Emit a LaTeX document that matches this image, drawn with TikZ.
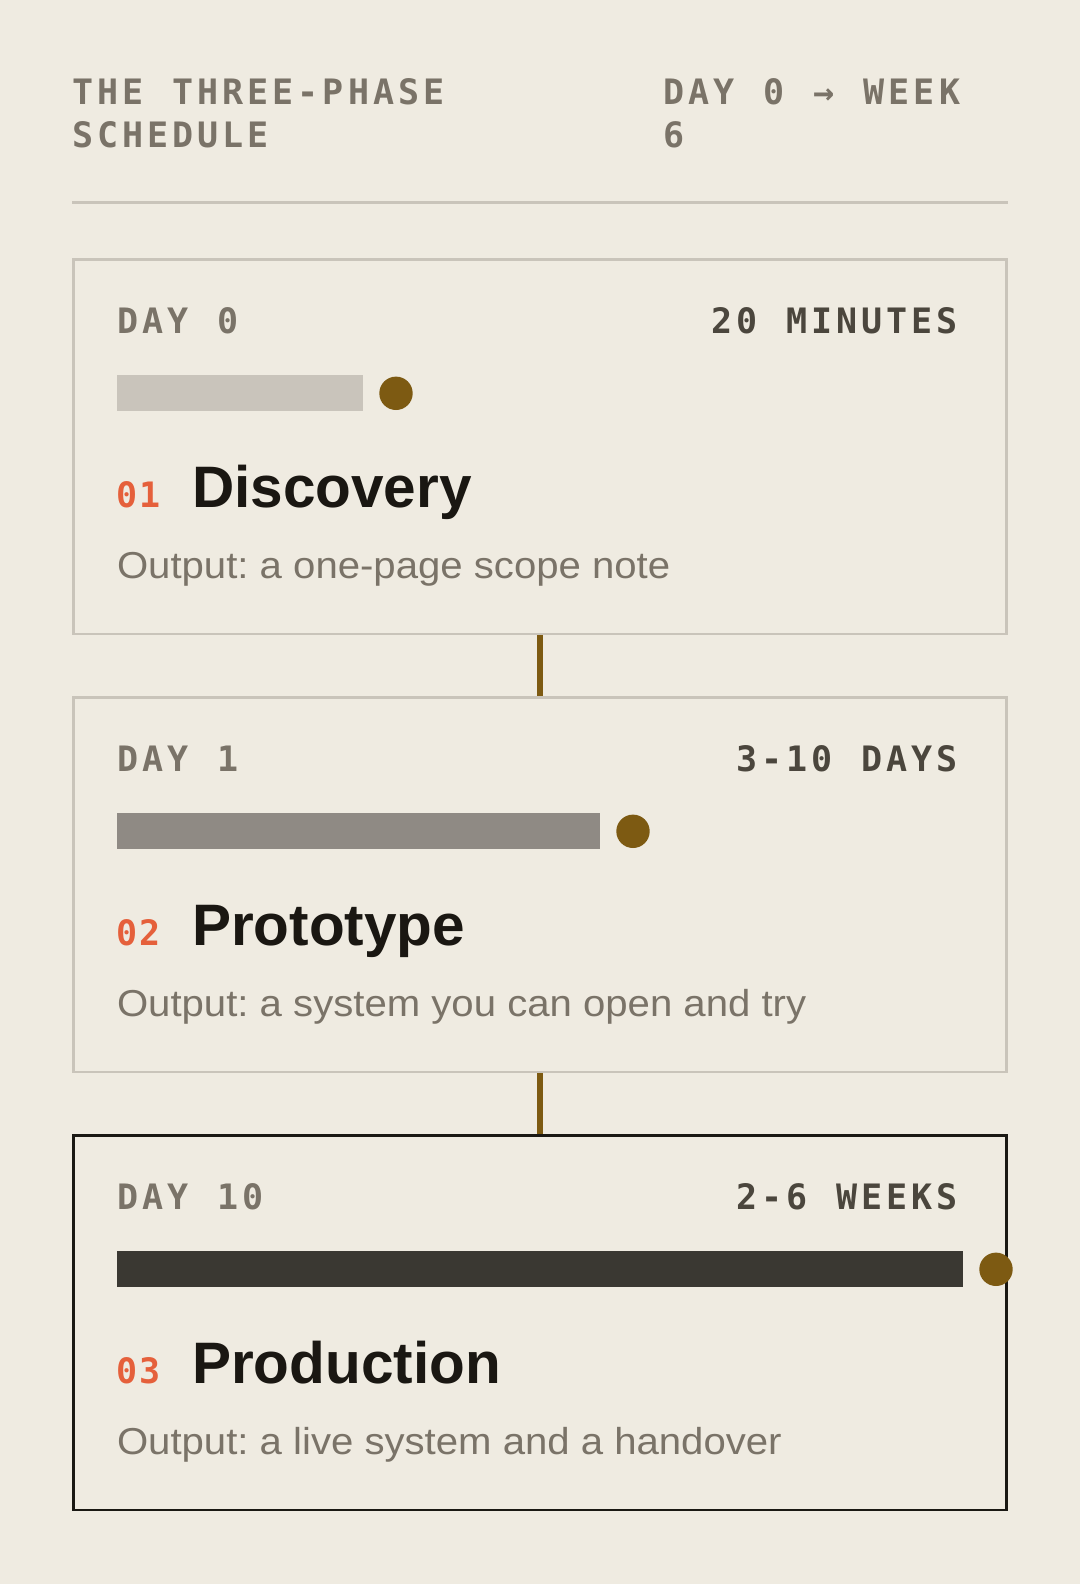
\documentclass[tikz,border=0pt]{standalone}
\usepackage{fontspec}
\setmainfont{Liberation Sans}
\newfontfamily\monof{DejaVu Sans Mono}
\newfontfamily\outf[FakeStretch=1.07]{Liberation Sans}
\definecolor{bgc}{HTML}{EFEBE1}
\definecolor{bordc}{HTML}{C9C4BA}
\definecolor{barA}{HTML}{C9C4BB}
\definecolor{barB}{HTML}{8F8A84}
\definecolor{barC}{HTML}{3A3832}
\definecolor{brownc}{HTML}{7D5A12}
\definecolor{orangec}{HTML}{E5603B}
\definecolor{titlec}{HTML}{1A1712}
\definecolor{grayc}{HTML}{7A7368}
\definecolor{darkc}{HTML}{4B463D}
\definecolor{inkc}{HTML}{1A1813}
\newcommand\lsp[1]{\lspi#1\relax}
\def\lspi#1{\ifx#1\relax\else\makebox[25.1pt][l]{#1}\expandafter\lspi\fi}
\newcommand\nsp[1]{\nspi#1\relax}
\def\nspi#1{\ifx#1\relax\else\makebox[23pt][l]{#1}\expandafter\nspi\fi}
\frenchspacing
\begin{document}
\frenchspacing
\begin{tikzpicture}[x=1pt,y=-1pt,
  txt/.style={anchor=base west, inner sep=0pt, outer sep=0pt},
  hdr/.style={txt, text=grayc, font=\monof\bfseries\fontsize{35}{42}\selectfont},
  lbl/.style={txt, text=grayc, font=\monof\bfseries\fontsize{35}{42}\selectfont},
  dur/.style={txt, text=darkc, font=\monof\bfseries\fontsize{35}{42}\selectfont},
  num/.style={txt, text=orangec, font=\monof\bfseries\fontsize{35}{40}\selectfont},
  ttl/.style={txt, text=titlec, font=\bfseries\fontsize{58.5}{70}\selectfont},
  outp/.style={txt, text=grayc, font=\outf\frenchspacing\fontsize{37.5}{45}\selectfont},
  phase/.style={draw=bordc, line width=2.7pt, minimum width=932.8pt, minimum height=374.7pt, inner sep=0pt, outer sep=0pt},
  finalphase/.style={phase, draw=inkc},
  bar/.style={anchor=north west, inner sep=0pt, outer sep=0pt, minimum height=36pt},
  dot/.style={circle, fill=brownc, inner sep=0pt, outer sep=0pt, minimum size=33.4pt},
  conn/.style={draw=brownc, line width=6pt, shorten <=1.35pt, shorten >=1.35pt}
]
\useasboundingbox (0,0) rectangle (1080,1584);
\fill[bgc] (0,0) rectangle (1080,1584);

% header
\node[hdr] (h1a) at (72,105) {\lsp{THE~THREE-PHASE}};
\node[hdr] (h1b) at (72,147) {\lsp{SCHEDULE}};
\node[hdr] (h2a) at (663,105) {\lsp{DAY~0~→~WEEK}};
\node[hdr] (h2b) at (663,147) {\lsp{6}};
\coordinate (rl) at (72,202);
\coordinate (rr) at (1008,202);
\draw[bordc, line width=3pt] (rl) -- (rr);

% boxes
\node[phase] (b1) at (539.9,446.65) {};
\node[phase] (b2) at (539.9,884.65) {};
\node[finalphase] (b3) at (539.9,1322.65) {};

\draw[conn] (b1.south) -- (b2.north);
\draw[conn] (b2.south) -- (b3.north);

% box 1
\node[lbl] (l1) at (117,333.3) {\lsp{DAY~0}};
\node[dur] (r1) at (711,333.3) {\lsp{20~MINUTES}};
\node[bar, fill=barA, minimum width=246pt] (bar1) at (117,375.3) {};
\node[dot] (d1) at (396,393.3) {};
\node[num] (n1) at (116.5,507.3) {\nsp{01}};
\node[ttl] (t1) at (192,507.3) {Discovery};
\node[outp] (o1) at (117,578.3) {Output: a one-page scope note};

% box 2
\node[lbl] (l2) at (117,771.3) {\lsp{DAY~1}};
\node[dur] (r2) at (736,771.3) {\lsp{3-10~DAYS}};
\node[bar, fill=barB, minimum width=483pt] (bar2) at (117,813.3) {};
\node[dot] (d2) at (633,831.3) {};
\node[num] (n2) at (116.5,945.3) {\nsp{02}};
\node[ttl] (t2) at (192,945.3) {Prototype};
\node[outp] (o2) at (117,1016.3) {Output: a system you can open and try};

% box 3
\node[lbl] (l3) at (117,1209.3) {\lsp{DAY~10}};
\node[dur] (r3) at (736,1209.3) {\lsp{2-6~WEEKS}};
\node[bar, fill=barC, minimum width=846pt] (bar3) at (117,1251.3) {};
\node[dot] (d3) at (996,1269.3) {};
\node[num] (n3) at (116.5,1383.3) {\nsp{03}};
\node[ttl] (t3) at (192,1383.3) {Production};
\node[outp] (o3) at (117,1454.3) {Output: a live system and a handover};
\end{tikzpicture}
\end{document}
